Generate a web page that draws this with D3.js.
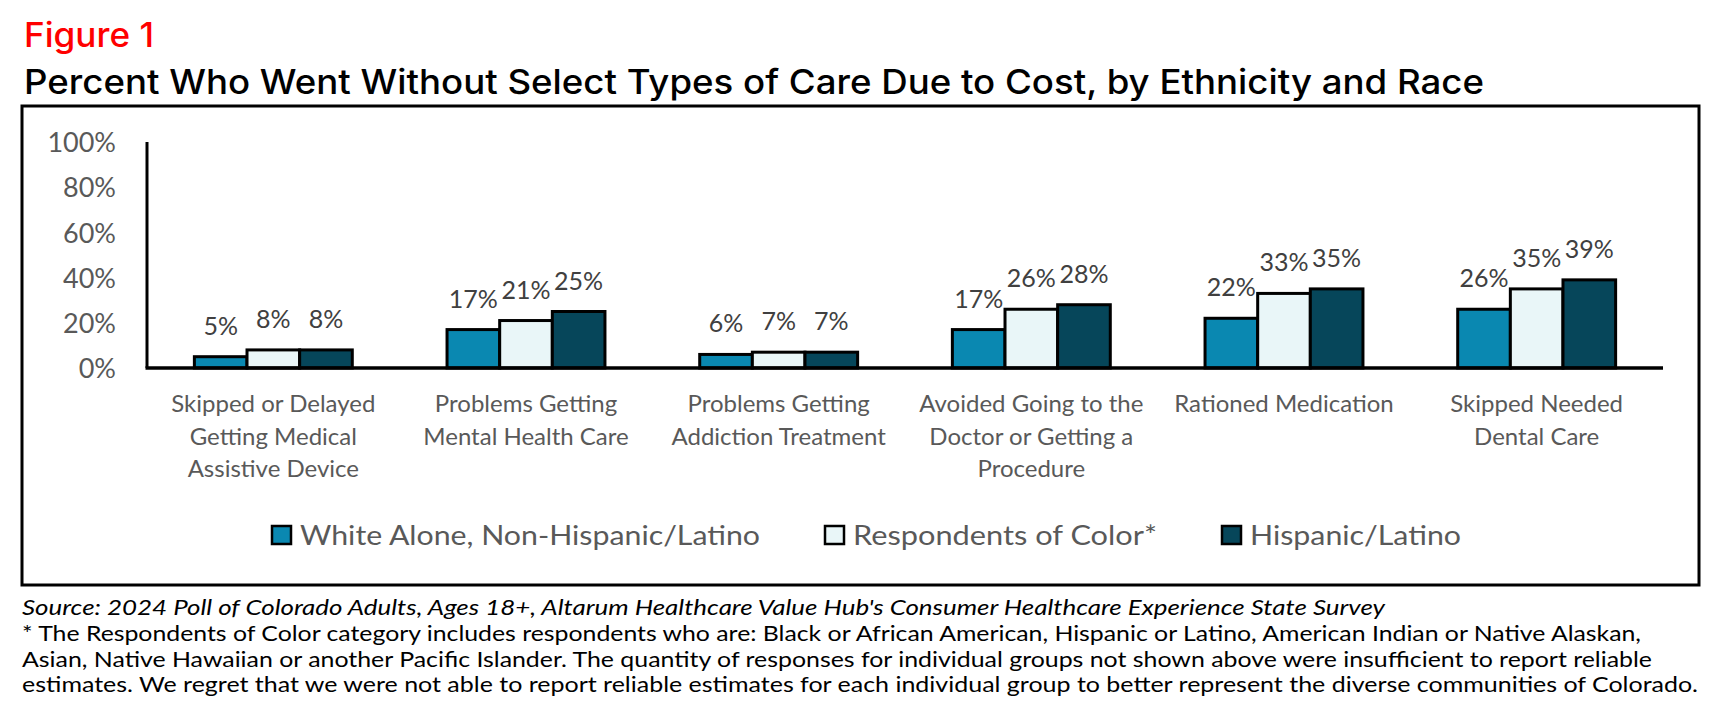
<!DOCTYPE html>
<html>
<head>
<meta charset="utf-8">
<script src="https://cdn.jsdelivr.net/npm/d3@7"></script>
<style>
  body { margin: 0; background: #fff; }
  svg text { font-family: Lato, "Open Sans", sans-serif; }
</style>
</head>
<body>
<div id="chart"></div>
<script>
// Data
const categories = [
    "Skipped or Delayed Getting Medical Assistive Device",
    "Problems Getting Mental Health Care",
    "Problems Getting Addiction Treatment",
    "Avoided Going to the Doctor or Getting a Procedure",
    "Rationed Medication",
    "Skipped Needed Dental Care"
];
const categoryLines = [
    ["Skipped or Delayed", "Getting Medical", "Assistive Device"],
    ["Problems Getting", "Mental Health Care"],
    ["Problems Getting", "Addiction Treatment"],
    ["Avoided Going to the", "Doctor or Getting a", "Procedure"],
    ["Rationed Medication"],
    ["Skipped Needed", "Dental Care"]
];
const seriesNames = ["White Alone, Non-Hispanic/Latino", "Respondents of Color*", "Hispanic/Latino"];
const whiteAlone = [5, 17, 6, 17, 22, 26];
const respondentsOfColor = [8, 21, 7, 26, 33, 35];
const hispanicLatino = [8, 25, 7, 28, 35, 39];
const yTicks = [0, 20, 40, 60, 80, 100];
const footLines = [
    "* The Respondents of Color category includes respondents who are: Black or African American, Hispanic or Latino, American Indian or Native Alaskan,",
    "Asian, Native Hawaiian or another Pacific Islander. The quantity of responses for individual groups not shown above were insufficient to report reliable",
    "estimates. We regret that we were not able to report reliable estimates for each individual group to better represent the diverse communities of Colorado."
];
const sourceLine = "Source: 2024 Poll of Colorado Adults, Ages 18+, Altarum Healthcare Value Hub's Consumer Healthcare Experience State Survey";

const colors = ["#0a88b1", "#e9f6f8", "#06465a"];
const seriesValues = [whiteAlone, respondentsOfColor, hispanicLatino];

const canvas = { w: 1723, h: 708 };
const plot = { left: 147, right: 1663, top: 142, bottom: 368 };

// squeeze text to a target width (Calibri is narrower than what we have)
function fitWidth(sel, target) {
    sel.each(function() {
        const w = this.getComputedTextLength();
        if (w > 0 && Math.abs(w - target) > 1) {
            d3.select(this).attr("textLength", target).attr("lengthAdjust", "spacingAndGlyphs");
        }
    });
}

const svg = d3.select("#chart")
    .append("svg")
    .attr("width", canvas.w)
    .attr("height", canvas.h);

// Titles
svg.append("text")
    .attr("x", 24).attr("y", 47)
    .attr("fill", "#ff0000")
    .style("font-family", "Inter, Lato, sans-serif")
    .style("font-size", "34px").style("font-weight", 500)
    .text("Figure 1")
    .call(fitWidth, 130);

svg.append("text")
    .attr("x", 24).attr("y", 94)
    .attr("fill", "#000")
    .style("font-family", "Inter, Lato, sans-serif")
    .style("font-size", "34px").style("font-weight", 500)
    .text("Percent Who Went Without Select Types of Care Due to Cost, by Ethnicity and Race")
    .call(fitWidth, 1460);

// Frame
svg.append("rect")
    .attr("x", 22).attr("y", 106)
    .attr("width", 1677).attr("height", 479)
    .attr("fill", "none").attr("stroke", "#000").attr("stroke-width", 3);

// Scales
const x0 = d3.scaleBand()
    .domain(categories)
    .range([plot.left, plot.right])
    .paddingInner(0.375)
    .paddingOuter(0.1875);
const x1 = d3.scaleBand()
    .domain(seriesNames)
    .range([0, x0.bandwidth()]);
const y = d3.scaleLinear()
    .domain([0, 100])
    .range([plot.bottom, plot.top]);

// Y axis labels
const yAxis = svg.append("g")
    .attr("transform", `translate(${plot.left},0)`)
    .call(d3.axisLeft(y).tickValues(yTicks).tickFormat(d => d + "%").tickSize(0).tickPadding(31));
yAxis.select(".domain").remove();
yAxis.selectAll("text")
    .attr("fill", "#595959")
    .attr("dy", "0.36em")
    .style("font-size", "27px")
    .style("font-family", "Lato, sans-serif");

// Bars
const groups = svg.append("g")
    .selectAll("g")
    .data(categories)
    .join("g")
    .attr("transform", d => `translate(${x0(d)},0)`);

groups.selectAll("rect")
    .data((d, i) => seriesNames.map((s, j) => ({ s, j, v: seriesValues[j][i] })))
    .join("rect")
    .attr("x", d => x1(d.s))
    .attr("y", d => y(d.v))
    .attr("width", x1.bandwidth())
    .attr("height", d => y(0) - y(d.v))
    .attr("fill", d => colors[d.j])
    .attr("stroke", "#000")
    .attr("stroke-width", 3);

groups.selectAll("text.val")
    .data((d, i) => seriesNames.map((s, j) => ({ s, j, v: seriesValues[j][i] })))
    .join("text")
    .attr("class", "val")
    .attr("x", d => x1(d.s) + x1.bandwidth() / 2)
    .attr("y", d => y(d.v) - 22)
    .attr("text-anchor", "middle")
    .attr("fill", "#404040")
    .style("font-size", "25px")
    .text(d => d.v + "%");

// Axis lines
svg.append("line")
    .attr("x1", plot.left).attr("x2", plot.left)
    .attr("y1", plot.top).attr("y2", plot.bottom)
    .attr("stroke", "#000").attr("stroke-width", 3);
svg.append("line")
    .attr("x1", plot.left - 1.5).attr("x2", plot.right)
    .attr("y1", plot.bottom).attr("y2", plot.bottom)
    .attr("stroke", "#000").attr("stroke-width", 3.5);

// Category labels
categories.forEach((c, i) => {
    const cx = x0(c) + x0.bandwidth() / 2;
    svg.append("text")
        .attr("x", cx).attr("y", 412)
        .attr("text-anchor", "middle")
        .attr("fill", "#595959")
        .style("font-size", "24px")
        .selectAll("tspan")
        .data(categoryLines[i])
        .join("tspan")
        .attr("x", cx)
        .attr("dy", (d, k) => k === 0 ? 0 : 32.5)
        .text(d => d);
});

// Legend
const legendX = [272, 825, 1222];
const legendW = [460, 304, 211];
const legend = svg.append("g")
    .selectAll("g")
    .data(seriesNames)
    .join("g")
    .attr("transform", (d, i) => `translate(${legendX[i]},526)`);
legend.append("rect")
    .attr("width", 19).attr("height", 18)
    .attr("fill", (d, i) => colors[i])
    .attr("stroke", "#000").attr("stroke-width", 2.5);
legend.append("text")
    .attr("x", 28).attr("y", 19)
    .attr("fill", "#595959")
    .style("font-size", "27px")
    .text(d => d)
    .each(function(d, i) { d3.select(this).call(fitWidth, legendW[i]); });

// Footnotes
svg.append("text")
    .attr("x", 22).attr("y", 615)
    .attr("fill", "#000")
    .style("font-size", "21px").style("font-style", "italic")
    .text(sourceLine)
    .call(fitWidth, 1363);

const footEnds = [1641, 1652, 1698];
footLines.forEach((t, i) => {
    svg.append("text")
        .attr("x", 22).attr("y", 641 + i * 25.5)
        .attr("fill", "#000")
        .style("font-size", "21px")
        .text(t)
        .call(fitWidth, footEnds[i] - 22);
});
</script>
</body>
</html>
